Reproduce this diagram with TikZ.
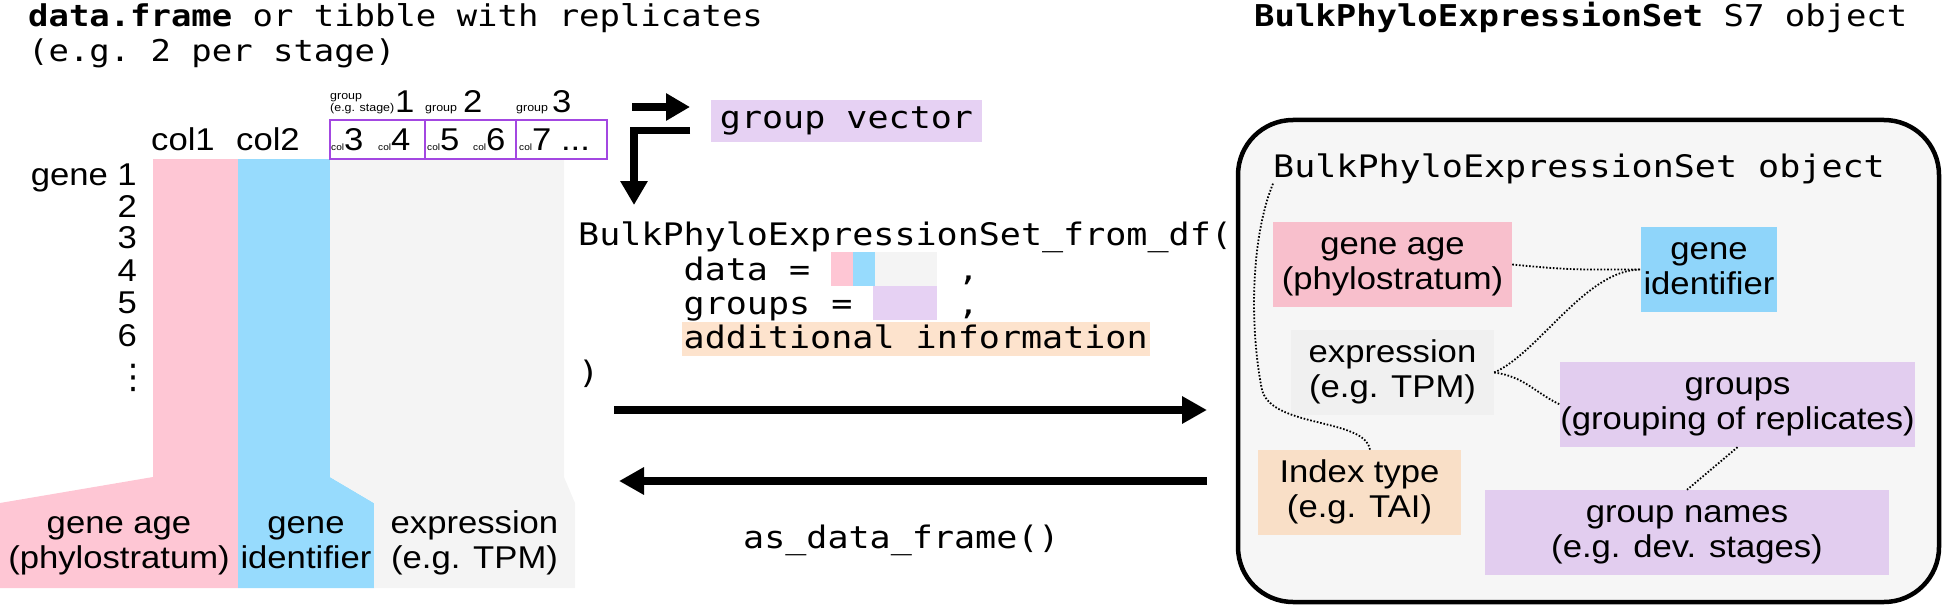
\documentclass[tikz,border=0pt]{standalone}
\usepackage{fontspec}
\usepackage{graphicx}
\setmonofont{DejaVu Sans Mono}
\newfontfamily\hv{Liberation Sans}
\newfontfamily\dvs{DejaVu Sans}
\usetikzlibrary{arrows.meta}
\definecolor{pinkT}{HTML}{FEC6D4}
\definecolor{blueT}{HTML}{97DBFD}
\definecolor{grayT}{HTML}{F4F4F4}
\definecolor{lav}{HTML}{E6D1F3}
\definecolor{peach}{HTML}{FDE3CD}
\definecolor{pinkB}{HTML}{F8BFCC}
\definecolor{blueB}{HTML}{8FD5FA}
\definecolor{grayB}{HTML}{F0F0F0}
\definecolor{lavB}{HTML}{E2CDEF}
\definecolor{peachB}{HTML}{F9DFC7}
\definecolor{boxbg}{HTML}{F6F6F6}
\definecolor{purp}{HTML}{A347E1}
\newcommand\sx[1]{\scalebox{1.10}[1]{#1}}
\newcommand\mx[1]{\scalebox{1.13}[1]{#1}}
\newcommand\twol[2]{\sx{\begin{tabular}{@{}c@{}}#1\\#2\end{tabular}}}
\newcommand\sfs{\hv\fontsize{31.5}{35}\selectfont}
\newcommand\mfs{\ttfamily\fontsize{31}{35}\selectfont}
\newcommand\tfs{\ttfamily\fontsize{30}{35}\selectfont}
\newcommand\smallfs{\hv\fontsize{11.3}{12}\selectfont}
\newcommand\tinyfs{\hv\fontsize{9.2}{9}\selectfont}
\begin{document}
\begin{tikzpicture}[x=1pt,y=-1pt,
  txt/.style={inner sep=0pt},
  sans/.style={font=\sfs},
  mono/.style={font=\mfs},
  cbox/.style={inner sep=0pt, font=\sfs, minimum height=85pt},
  dots/.style={line width=1.8pt, dash pattern=on 1.6pt off 1.8pt},
  bigarrow/.style={line width=8.5pt, -{Triangle[length=25pt,width=26pt]}},
  smallarrow/.style={line width=7.5pt, line join=miter, -{Triangle[length=24pt,width=26pt]}},
  grpbox/.style={draw=purp, line width=2pt}]
\useasboundingbox (0,0) rectangle (1946,607);

% ---------- titles ----------
\node[txt,font=\tfs,anchor=base west] (t1) at (28,27) {\mx{\textbf{data.frame} or tibble with replicates}};
\node[txt,font=\tfs,anchor=base west] (t2) at (28,62) {\mx{(e.g. 2 per stage)}};
\node[txt,font=\tfs,anchor=base west] (t3) at (1254,27) {\mx{\textbf{BulkPhyloExpressionSet} S7 object}};

% ---------- left table ----------
\fill[pinkT] (153,159) -- (238,159) -- (238,588) -- (0,588) -- (0,503) -- (153,477) -- cycle;
\fill[blueT] (238,159) -- (330,159) -- (330,477) -- (374,503) -- (374,588) -- (238,588) -- cycle;
\fill[grayT] (330,159) -- (564,159) -- (564,477) -- (575,503) -- (575,588) -- (374,588) -- (374,503) -- (330,477) -- cycle;

\draw[grpbox] (330,120) rectangle (425,159);
\draw[grpbox] (425,120) rectangle (516,159);
\draw[grpbox] (516,120) rectangle (607,159);

\node[txt,sans,anchor=base west] (c1) at (151,150) {\sx{col1}};
\node[txt,sans,anchor=base west] (c2) at (236,150) {\sx{col2}};
\node[txt,sans,anchor=base west] (c3) at (331,150) {\sx{{\tinyfs col}3}};
\node[txt,sans,anchor=base west] (c4) at (378,150) {\sx{{\tinyfs col}4}};
\node[txt,sans,anchor=base west] (c5) at (427,150) {\sx{{\tinyfs col}5}};
\node[txt,sans,anchor=base west] (c6) at (473,150) {\sx{{\tinyfs col}6}};
\node[txt,sans,anchor=base west] (c7) at (519,150) {\sx{{\tinyfs col}7 ...}};

\node[txt,font=\smallfs,anchor=base west] (gl1) at (330,112) {\sx{\begin{tabular}[b]{@{}l@{}}group\\(e.g. stage)\end{tabular}}};
\node[txt,sans,anchor=base west] (gn1) at (395,113) {\sx{1}};
\node[txt,font=\smallfs,anchor=base west] (gl2) at (425,112) {\sx{group}};
\node[txt,sans,anchor=base west] (gn2) at (463,113) {\sx{2}};
\node[txt,font=\smallfs,anchor=base west] (gl3) at (516,112) {\sx{group}};
\node[txt,sans,anchor=base west] (gn3) at (552,113) {\sx{3}};

\node[txt,sans,anchor=base east] (r1) at (137,185) {\sx{gene 1}};
\node[txt,sans,anchor=base east] (r2) at (137,217) {\sx{2}};
\node[txt,sans,anchor=base east] (r3) at (137,248) {\sx{3}};
\node[txt,sans,anchor=base east] (r4) at (137,281) {\sx{4}};
\node[txt,sans,anchor=base east] (r5) at (137,313) {\sx{5}};
\node[txt,sans,anchor=base east] (r6) at (137,346) {\sx{6}};
\node[txt,font=\dvs\fontsize{34}{34}\selectfont] (rd) at (133,378) {⋮};

\node[txt,sans] (lga) at (119,543.5) {\twol{gene age}{(phylostratum)}};
\node[txt,sans] (lgi) at (306,543.5) {\twol{gene}{identifier}};
\node[txt,sans] (lex) at (474.5,543.5) {\twol{expression}{(e.g. TPM)}};

% ---------- group vector and code ----------
\node[inner sep=0pt, fill=lav, minimum width=271pt, minimum height=42pt, text height=22pt, text depth=7pt, mono] (gv) at (846.5,121) {\mx{group vector}};
\coordinate (ra1) at (632,107);
\coordinate (ra2) at (690,107);
\draw[smallarrow] (ra1) -- (ra2);
\coordinate (la1) at (690,130.5);
\coordinate (la2) at (634,130.5);
\coordinate (la3) at (634,205);
\draw[smallarrow] (la1) -- (la2) -- (la3);

\node[txt,mono,anchor=base west] (fn) at (578,245) {\mx{BulkPhyloExpressionSet\_from\_df(}};
\node[txt,mono,anchor=base west] (dat) at (683.5,280) {\mx{data =}};
\fill[pinkT] (831,252) rectangle (853,286);
\fill[blueT] (853,252) rectangle (875,286);
\fill[grayT] (875,252) rectangle (936.5,286);
\node[txt,mono,anchor=base west] (cm1) at (957.6,280) {\mx{,}};
\node[txt,mono,anchor=base west] (grp) at (683.5,314) {\mx{groups =}};
\fill[lav] (873.3,286) rectangle (936.5,320);
\node[txt,mono,anchor=base west] (cm2) at (957.6,314) {\mx{,}};
\node[inner ysep=0pt, inner xsep=2pt, mono, anchor=base west, fill=peach, text height=26pt, text depth=8pt] (add) at (681.5,348) {\mx{additional information}};
\node[txt,mono,anchor=base west] (cl) at (578,383) {\mx{)}};

\coordinate (ba1) at (614,410);
\coordinate (ba2) at (1207,410);
\draw[bigarrow] (ba1) -- (ba2);
\coordinate (bb1) at (1207,481);
\coordinate (bb2) at (619,481);
\draw[bigarrow] (bb1) -- (bb2);
\node[txt,mono,anchor=base west] (asdf) at (743,548) {\mx{as\_data\_frame()}};

% ---------- object box ----------
\node[draw, line width=4.5pt, rounded corners=55pt, fill=boxbg, minimum width=701pt, minimum height=482pt, inner sep=0pt] (obj) at (1588.5,361) {};
\node[txt,mono,anchor=base west] (objt) at (1273,177) {\mx{BulkPhyloExpressionSet object}};

\node[cbox, fill=pinkB, minimum width=239pt] (genage) at (1392.5,264.5) {\twol{gene age}{(phylostratum)}};
\node[cbox, fill=blueB, minimum width=136pt] (geneid) at (1709,269.5) {\twol{gene}{identifier}};
\node[cbox, fill=grayB, minimum width=203pt] (expr) at (1392.5,372.5) {\twol{expression}{(e.g. TPM)}};
\node[cbox, fill=lavB, minimum width=355pt] (groups) at (1737.5,404.5) {\twol{groups}{(grouping of replicates)}};
\node[cbox, fill=peachB, minimum width=203pt] (index) at (1359.5,492.5) {\twol{Index type}{(e.g. TAI)}};
\node[cbox, fill=lavB, minimum width=404pt] (gnames) at (1687,532.5) {\twol{group names}{(e.g. dev. stages)}};

\draw[dots] (genage.east) .. controls +(60,6) and +(-60,0) .. (geneid.west);
\draw[dots] (expr.east) .. controls +(45,-20) and +(-55,0) .. (geneid.west);
\draw[dots] (expr.east) .. controls +(30,4) and +(-25,-12) .. (groups.west);
\draw[dots] (groups.south) -- (gnames.north);
\draw[dots] (objt.south west) .. controls (1250,240) and (1250,330) .. (1262,390) .. controls (1272,428) and (1365,418) .. ([xshift=10.5pt]index.north);
\end{tikzpicture}
\end{document}
